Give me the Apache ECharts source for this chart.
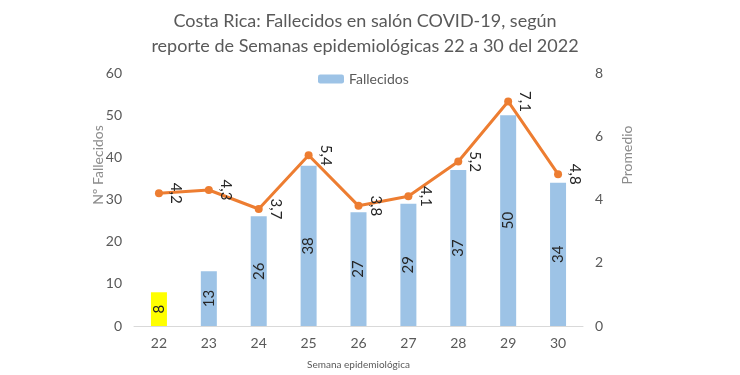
<!DOCTYPE html>
<html>
<head>
<meta charset="utf-8">
<script src="https://cdn.jsdelivr.net/npm/echarts@6/dist/echarts.min.js"></script>
<style>
  html, body { margin: 0; padding: 0; background: #fff; }
  #main { width: 740px; height: 375px; }
</style>
</head>
<body>
<div id="main"></div>
<script>
var semanas = ["22", "23", "24", "25", "26", "27", "28", "29", "30"];
var fallecidos = [8, 13, 26, 38, 27, 29, 37, 50, 34];
var promedio = [4.2, 4.3, 3.7, 5.4, 3.8, 4.1, 5.2, 7.1, 4.8];
var colorBarra = "#9DC3E6";
var colorResaltado = "#FFFF00";

var myChart = echarts.init(document.getElementById("main"));

var font = "Lato";
var gris = "#595959";
var grisClaro = "#8C8C8C";

myChart.setOption({
  animation: false,
  textStyle: { fontFamily: font },
  title: {
    text: "Costa Rica: Fallecidos en salón COVID-19, según\nreporte de Semanas epidemiológicas 22 a 30 del 2022",
    left: 360,
    textAlign: "center",
    top: 4,
    textStyle: {
      fontFamily: font,
      fontSize: 18,
      fontWeight: "normal",
      color: gris,
      lineHeight: 25,
    },
  },
  legend: {
    data: ["Fallecidos"],
    top: 67,
    left: 313,
    itemWidth: 26,
    itemHeight: 9,
    itemGap: 3,
    textStyle: { fontSize: 14, color: gris, fontFamily: font },
  },
  grid: {
    left: 134,
    right: 157,
    top: 73,
    bottom: 49,
  },
  graphic: [
    {
      type: "text",
      x: 98,
      y: 165,
      rotation: Math.PI / 2,
      style: {
        text: "Nº Fallecidos",
        fontFamily: font,
        fontSize: 14,
        fill: grisClaro,
        align: "center",
        verticalAlign: "middle",
      },
    },
    {
      type: "text",
      x: 627,
      y: 155,
      rotation: Math.PI / 2,
      style: {
        text: "Promedio",
        fontFamily: font,
        fontSize: 14,
        fill: grisClaro,
        align: "center",
        verticalAlign: "middle",
      },
    },
  ],
  xAxis: {
    type: "category",
    data: semanas,
    name: "Semana epidemiológica",
    nameLocation: "middle",
    nameGap: 34,
    nameTextStyle: { fontSize: 10, color: gris },
    axisLine: { lineStyle: { color: "#D9D9D9" } },
    axisTick: { show: false },
    axisLabel: { fontSize: 14, color: gris, margin: 10 },
  },
  yAxis: [
    {
      type: "value",
      min: 0,
      max: 60,
      interval: 10,
      axisLabel: { fontSize: 14, color: gris, margin: 12 },
      splitLine: { show: false },
      axisLine: { show: false },
    },
    {
      type: "value",
      min: 0,
      max: 8,
      interval: 2,
      axisLabel: { fontSize: 14, color: gris, margin: 12 },
      splitLine: { show: false },
      axisLine: { show: false },
    },
  ],
  series: [
    {
      name: "Fallecidos",
      type: "bar",
      barWidth: 16,
      itemStyle: { color: colorBarra },
      data: fallecidos.map(function (v, i) {
        return i === 0 ? { value: v, itemStyle: { color: colorResaltado } } : v;
      }),
      label: {
        show: true,
        position: "inside",
        rotate: 90,
        fontSize: 15,
        color: "#262626",
      },
    },
    {
      name: "Promedio",
      type: "line",
      yAxisIndex: 1,
      data: promedio,
      symbol: "circle",
      symbolSize: 8,
      lineStyle: { color: "#ED7D31", width: 3 },
      itemStyle: { color: "#ED7D31" },
      label: {
        show: true,
        position: "right",
        distance: 13,
        rotate: -90,
        align: "center",
        verticalAlign: "middle",
        fontSize: 15,
        color: "#262626",
        formatter: function (p) {
          return p.value.toFixed(1).replace(".", ",");
        },
      },
    },
  ],
});
</script>
</body>
</html>
